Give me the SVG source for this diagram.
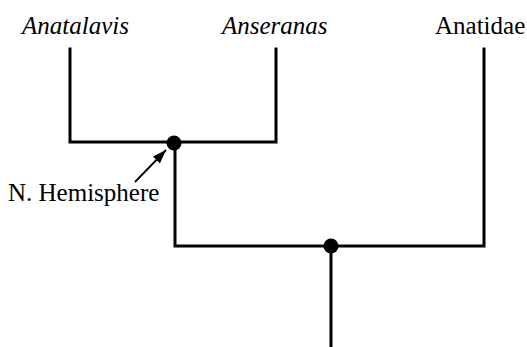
<svg xmlns="http://www.w3.org/2000/svg" width="527" height="347" viewBox="0 0 527 347">
<style>
.t{font-family:"Liberation Serif","Times New Roman",serif;font-size:25px;fill:#000}
.i{font-style:italic}
.e{stroke:#000;stroke-width:3;fill:none;stroke-linecap:square}
.n{fill:#000}
</style>
<defs>
<marker id="ah" viewBox="0 0 14 10" refX="14" refY="5" markerWidth="14" markerHeight="10" orient="auto" markerUnits="userSpaceOnUse">
<path d="M0,0 L14,5 L0,10 z" fill="#000"/>
</marker>
</defs>
<rect width="527" height="347" fill="#fff"/>
<g id="connectors">
<path class="e" d="M70,49 V142 H276 V49"/>
<path class="e" d="M175,142 V246 H484 V49"/>
<path class="e" d="M331,246 V347"/>
<line x1="135" y1="182" x2="166" y2="150" stroke="#000" stroke-width="1.8" marker-end="url(#ah)"/>
</g>
<g id="anatalavis"><text class="t i" x="22" y="34">Anatalavis</text></g>
<g id="anseranas"><text class="t i" x="222" y="34">Anseranas</text></g>
<g id="anatidae"><text class="t" x="435" y="34">Anatidae</text></g>
<g id="node1"><circle class="n" cx="174" cy="143" r="7.5"/></g>
<g id="node2"><circle class="n" cx="331" cy="246" r="7.5"/></g>
<g id="nhemisphere"><text class="t" x="8" y="201">N. Hemisphere</text></g>
</svg>
